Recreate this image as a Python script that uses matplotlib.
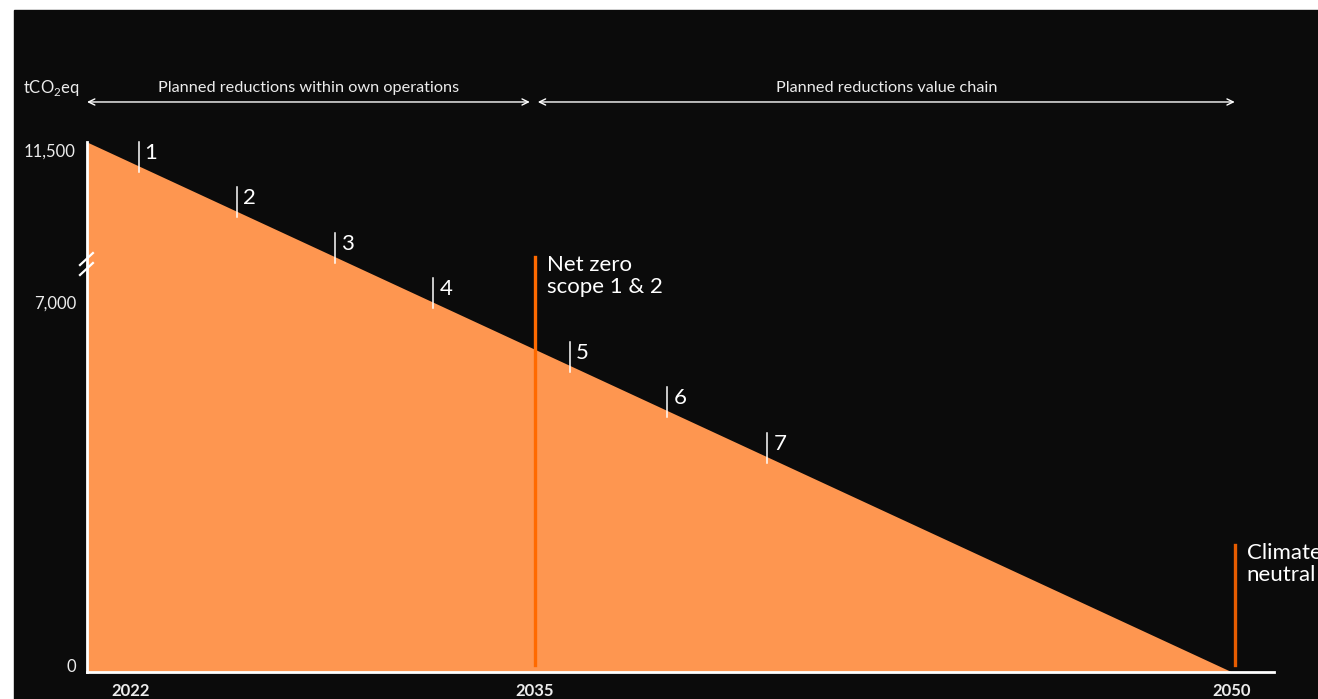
import numpy as np
import matplotlib
matplotlib.use('Agg')
from matplotlib import pyplot as plt
from matplotlib.patches import Rectangle
from matplotlib.transforms import ScaledTranslation

plt.rcParams['font.family'] = ['Lato', 'DejaVu Sans']
plt.rcParams['mathtext.fontset'] = 'custom'
plt.rcParams['mathtext.rm'] = 'Lato'

# data
years = [2022, 2050]
emissions = [11500, 0]
year_ticks = [2022, 2035, 2050]
year_labels = ['2022', '2035', '2050']
y_ticks = [0, 7000, 11500]
y_labels = ['0', '7,000', '11,500']
milestone_years = [2023.5, 2026.35, 2029.2, 2032.05, 2035.75, 2037.85, 2040.0]
milestone_labels = ['1', '2', '3', '4', '5', '6', '7']
phases = [(2022, 2034.85, 'Planned reductions within own operations'),
          (2035.06, 2050.06, 'Planned reductions value chain')]
targets = [(2035, 'Net zero\nscope 1 & 2', 415, '#ff6a00'),
           (2050.06, 'Climate\nneutral', 127, '#e65c00')]

BG = '#0b0b0b'
FILL = '#fe9650'
TXT = '#ececec'


def piecewise(xp, fp):
    # schematic (broken) axis: piecewise linear mapping with extrapolation
    xp = np.asarray(xp, float)
    fp = np.asarray(fp, float)

    def f(v):
        v = np.asarray(v, float)
        lo = fp[0] + (v - xp[0]) * (fp[1] - fp[0]) / (xp[1] - xp[0])
        hi = fp[-1] + (v - xp[-1]) * (fp[-1] - fp[-2]) / (xp[-1] - xp[-2])
        return np.where(v < xp[0], lo, np.where(v > xp[-1], hi, np.interp(v, xp, fp)))
    return f


# scales in pixel units (x from axis origin, y above axis)
fx = piecewise([2022, 2035, 2050], [0, 448, 1145])
fx_inv = piecewise([0, 448, 1145], [2022, 2035, 2050])
fy = piecewise([0, 7000, 11500], [0, 370, 530])
fy_inv = piecewise([0, 370, 530], [0, 7000, 11500])

W, H = 1318, 699
fig = plt.figure(figsize=(W / 100, H / 100), dpi=100, facecolor='white')
fig.patches.append(Rectangle((14 / W, 0), 1, 1 - 10 / H, transform=fig.transFigure,
                             color=BG, zorder=-10))
ax = fig.add_axes([87 / W, 27 / H, 1187 / W, 612 / H])
ax.set_facecolor('none')
ax.set_xscale('function', functions=(fx, fx_inv))
ax.set_yscale('function', functions=(fy, fy_inv))
ax.set_xlim(2022, float(fx_inv(1187)))
ax.set_ylim(0, float(fy_inv(612)))

ax.fill_between(years, emissions, 0, color=FILL, lw=0, zorder=1)

for s in ['top', 'right']:
    ax.spines[s].set_visible(False)
for s in ['left', 'bottom']:
    ax.spines[s].set_color('white')
    ax.spines[s].set_linewidth(2)
    ax.spines[s].set_zorder(3)
ax.spines['left'].set_bounds(0, 11500)

ax.set_yticks(y_ticks, y_labels)
ax.tick_params(axis='y', length=0, pad=8, labelsize=12, labelcolor=TXT)
ax.set_xticks([])
# nudge the first and last value labels like the original
for tick, dy in zip(ax.yaxis.get_major_ticks(), [7, 0, -8]):
    lab = tick.label1
    lab.set_transform(lab.get_transform() + ScaledTranslation(0, dy / 100, fig.dpi_scale_trans))

# year labels (first one sits a bit to the right of the origin)
for yr, lab in zip(year_ticks, year_labels):
    dx = 44 * 0.72 if yr == year_ticks[0] else 0
    ax.annotate(lab, xy=(yr, 0), xycoords=ax.get_xaxis_transform(),
                xytext=(dx, -19 * 0.72), textcoords='offset points',
                ha='center', va='center', fontsize=12, fontweight='bold',
                color=TXT, annotation_clip=False)

# axis break marks
for y0 in [0.665, 0.6487]:
    ax.plot([-0.0059, 0.005], [y0, y0 + 0.0196], transform=ax.transAxes,
            color='white', lw=1.6, clip_on=False, zorder=4)

# unit label
ax.text(-0.006, 0.954, r'tCO$_\mathregular{2}$eq', transform=ax.transAxes,
        ha='right', va='center', fontsize=12, color=TXT)

# phase arrows
for a, b, lab in phases:
    ax.annotate('', xy=(a, 0.9314), xytext=(b, 0.9314),
                xycoords=ax.get_xaxis_transform(),
                arrowprops=dict(arrowstyle='<->, head_length=0.45, head_width=0.22',
                                color='white', lw=1, shrinkA=0, shrinkB=0),
                annotation_clip=False)
    mid = float(fx_inv((fx(a) + fx(b)) / 2))
    ax.text(mid, 0.954, lab, transform=ax.get_xaxis_transform(),
            ha='center', va='center', fontsize=11.7, color=TXT)

# milestones on the reduction path
sx0, sx1 = fx(years[0]), fx(years[1])
sy0, sy1 = fy(emissions[0]), fy(emissions[1])
for m, lab in zip(milestone_years, milestone_labels):
    sy = sy0 + (sy1 - sy0) * (fx(m) - sx0) / (sx1 - sx0)
    ax.plot([m, m], [fy_inv(sy - 6), fy_inv(sy + 24)], color='white', lw=1.1, zorder=4)
    ax.annotate(lab, xy=(m, float(fy_inv(sy + 24))), xytext=(6 * 0.72, -17 * 0.72),
                textcoords='offset points', ha='left', va='baseline',
                fontsize=16, color='white')

# target lines
for x, lab, top, col in targets:
    ax.plot([x, x], [fy_inv(7), fy_inv(top)], color=col, lw=2.4, zorder=2)
    ax.annotate(lab, xy=(x, float(fy_inv(top))), xytext=(12 * 0.72, 2 * 0.72),
                textcoords='offset points', ha='left', va='top',
                fontsize=16, color='white', linespacing=1.15,
                annotation_clip=False)

fig.savefig('out.png', dpi=100, facecolor=fig.get_facecolor())
